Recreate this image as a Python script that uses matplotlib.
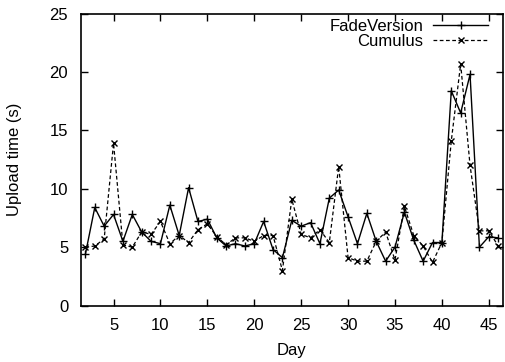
import matplotlib
matplotlib.use("Agg")
import matplotlib.pyplot as plt

days = list(range(2, 47))
fade_version = [4.4, 8.4, 6.8, 7.8, 5.5, 7.8, 6.3, 5.5, 5.3, 8.6, 6.0, 10.1, 7.2, 7.4,
                5.8, 5.1, 5.3, 5.1, 5.3, 7.2, 4.8, 4.1, 7.3, 6.8, 7.1, 5.3, 9.2, 9.9,
                7.6, 5.3, 7.9, 5.5, 3.8, 5.0, 8.0, 5.6, 3.8, 5.4, 5.4, 18.4, 16.5,
                19.8, 5.0, 5.9, 5.8]
cumulus = [5.0, 5.1, 5.7, 13.9, 5.2, 5.0, 6.3, 6.1, 7.2, 5.3, 6.0, 5.4, 6.5, 7.0,
           5.9, 5.2, 5.8, 5.8, 5.5, 6.0, 6.0, 3.0, 9.1, 6.1, 5.8, 6.5, 5.4, 11.9,
           4.1, 3.8, 3.8, 5.5, 6.3, 3.9, 8.5, 6.0, 5.1, 3.7, 5.4, 14.1, 20.7, 12.0,
           6.4, 6.4, 5.1]
x_ticks = [5, 10, 15, 20, 25, 30, 35, 40, 45]
y_ticks = [0, 5, 10, 15, 20, 25]

plt.rcParams['font.family'] = ['Liberation Sans', 'DejaVu Sans']
plt.rcParams['font.size'] = 12

fig = plt.figure(figsize=(5.05, 3.62), dpi=100)
ax = fig.add_axes([0.1598, 0.156, 0.836, 0.806])

ax.plot(days, fade_version, color='black', linewidth=1.0,
        marker='+', markersize=6, markeredgewidth=1.0, label='FadeVersion')
ax.plot(days, cumulus, color='black', linewidth=0.9, linestyle=(0, (3, 2)),
        marker='x', markersize=5, markeredgewidth=1.0, label='Cumulus')

ax.set_xlim(1.5, 46.5)
ax.set_ylim(0, 25)
ax.set_xticks(x_ticks)
ax.set_yticks(y_ticks)
ax.tick_params(direction='in', top=True, right=True, length=5, width=1, labelsize=12)
ax.tick_params(axis='x', pad=9)
ax.tick_params(axis='y', pad=9)
for s in ax.spines.values():
    s.set_linewidth(1.2)
ax.set_xlabel('Day', fontsize=12, labelpad=7)
ax.set_ylabel('Upload time (s)', fontsize=12, labelpad=20)

leg = ax.legend(loc='upper right', frameon=False, markerfirst=False, handlelength=3.3,
                handletextpad=0.6, borderaxespad=0.1, labelspacing=0.0, fontsize=12,
                bbox_to_anchor=(0.985, 1.012))
for t in leg.get_texts():
    t.set_ha('right')

fig.savefig('out.png', dpi=100)
